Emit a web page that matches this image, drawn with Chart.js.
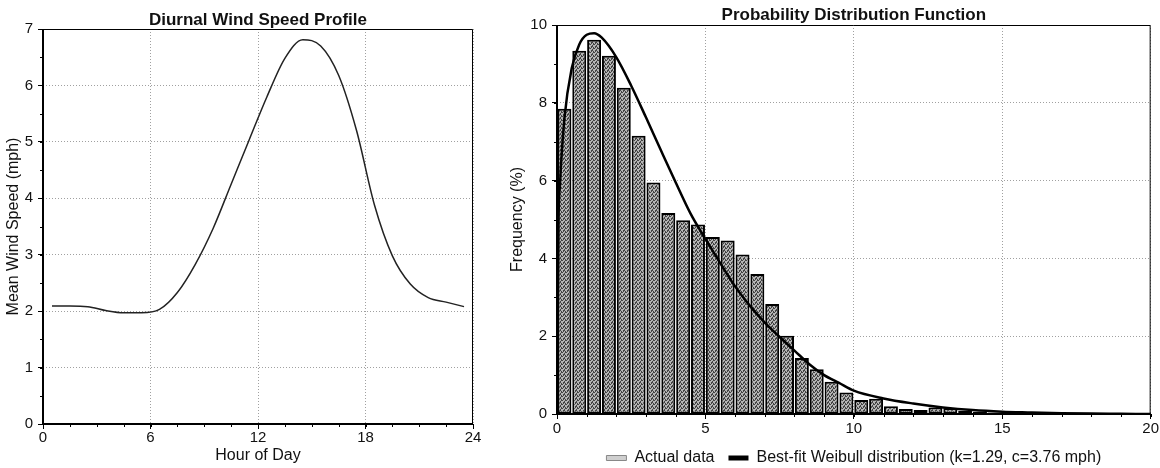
<!DOCTYPE html>
<html>
<head>
<meta charset="utf-8">
<title>Wind speed profile and distribution</title>
<script src="https://cdn.jsdelivr.net/npm/chart.js@4.4.1/dist/chart.umd.min.js"></script>
<style>
  html, body { margin: 0; padding: 0; background: #fff; overflow: hidden; }
  #wrap { position: relative; width: 1160px; height: 468px; overflow: hidden; }
  .box { position: absolute; }
  #left { left: 0; top: 0; }
  #right { left: 490px; top: 8px; }
</style>
</head>
<body>
<div id="wrap">
  <div class="box" id="left"><canvas id="diurnal" width="490" height="468"></canvas></div>
  <div class="box" id="right"><canvas id="pdf" width="670" height="468"></canvas></div>
</div>
<script>
// Diurnal profile (hourly means, plotted at the middle of each hour)
const hours = [0.5, 1.5, 2.5, 3.5, 4.5, 5.5, 6.5, 7.5, 8.5, 9.5, 10.5, 11.5,
               12.5, 13.5, 14.5, 15.5, 16.5, 17.5, 18.5, 19.5, 20.5, 21.5, 22.5, 23.5];
const meanSpeed = [2.09, 2.09, 2.08, 2.01, 1.97, 1.97, 2.03, 2.33, 2.83, 3.47, 4.25, 5.03,
                   5.80, 6.48, 6.81, 6.70, 6.18, 5.20, 3.88, 2.98, 2.48, 2.24, 2.16, 2.08];
const hourTicks = [0, 6, 12, 18, 24];
const speedTicks = [0, 1, 2, 3, 4, 5, 6, 7];

// Histogram of measured speeds, 0.5 mph bins
const binCenters = [0.25, 0.75, 1.25, 1.75, 2.25, 2.75, 3.25, 3.75, 4.25, 4.75, 5.25, 5.75,
                    6.25, 6.75, 7.25, 7.75, 8.25, 8.75, 9.25, 9.75, 10.25, 10.75, 11.25, 11.75,
                    12.25, 12.75, 13.25, 13.75, 14.25, 14.75, 15.25, 15.75];
const frequency = [7.85, 9.34, 9.62, 9.21, 8.39, 7.15, 5.95, 5.17, 4.98, 4.87, 4.55, 4.46,
                   4.10, 3.60, 2.83, 2.01, 1.44, 1.15, 0.83, 0.55, 0.36, 0.39, 0.20, 0.13,
                   0.10, 0.17, 0.15, 0.08, 0.06, 0.04, 0.03, 0.02];

// Weibull fit curve
const fitSpeed = [0, 0.05, 0.1, 0.25, 0.5, 0.75, 1, 1.25, 1.5, 2, 2.5, 3, 3.5, 4, 4.5, 5, 5.5,
                  6, 6.5, 7, 7.5, 8, 8.5, 9, 9.5, 10, 11, 12, 13, 14, 15, 16, 17, 18, 19, 20];
const fitFreq = [0, 4.9, 5.9, 7.6, 8.9, 9.5, 9.75, 9.79, 9.68, 9.17, 8.44, 7.62, 6.78, 5.95, 5.15,
                 4.5, 3.88, 3.28, 2.78, 2.35, 1.98, 1.63, 1.28, 1.0, 0.8, 0.6, 0.4, 0.27, 0.17,
                 0.1, 0.06, 0.04, 0.02, 0.01, 0.005, 0];
const mphTicks = [0, 5, 10, 15, 20];
const freqTicks = [0, 2, 4, 6, 8, 10];

Chart.defaults.font.family = "'Liberation Sans', Arial, sans-serif";
Chart.defaults.color = '#111';
Chart.defaults.animation = false;

// title centred over the plot area, not the whole canvas
const plotTitle = {
  id: 'plotTitle',
  afterDraw(chart, args, opts) {
    const { ctx, chartArea: a } = chart;
    ctx.save();
    ctx.font = 'bold 17px "Liberation Sans", Arial, sans-serif';
    ctx.fillStyle = '#111';
    ctx.textAlign = 'center';
    ctx.textBaseline = 'middle';
    ctx.fillText(opts.text, (a.left + a.right) / 2, opts.y);
    ctx.restore();
  }
};

// axis lines and box around the plot
const frame = {
  id: 'frame',
  afterDraw(chart) {
    const { ctx, chartArea: a } = chart;
    ctx.save();
    ctx.strokeStyle = '#000';
    ctx.lineWidth = 1;
    ctx.beginPath();
    ctx.moveTo(a.left, a.top + 0.5);
    ctx.lineTo(a.right - 0.5, a.top + 0.5);
    ctx.lineTo(a.right - 0.5, a.bottom);
    ctx.stroke();
    ctx.lineWidth = 2;
    ctx.beginPath();
    ctx.moveTo(a.left, a.top);
    ctx.lineTo(a.left, a.bottom);
    ctx.lineTo(a.right, a.bottom);
    ctx.stroke();
    ctx.restore();
  }
};

// small unlabeled ticks between the major ones
const minorTicks = {
  id: 'minorTicks',
  afterDraw(chart, args, opts) {
    const { ctx, chartArea: a, scales } = chart;
    ctx.save();
    ctx.strokeStyle = '#000';
    ctx.lineWidth = 1;
    ctx.beginPath();
    const xs = scales.x;
    for (let v = xs.min; v <= xs.max + 1e-9; v += opts.x) {
      const px = Math.round(xs.getPixelForValue(v)) + 0.5;
      ctx.moveTo(px, a.bottom);
      ctx.lineTo(px, a.bottom + 3);
    }
    const ys = scales.y;
    for (let v = ys.min; v <= ys.max + 1e-9; v += opts.y) {
      const py = Math.round(ys.getPixelForValue(v)) + 0.5;
      ctx.moveTo(a.left, py);
      ctx.lineTo(a.left - 3, py);
    }
    ctx.stroke();
    ctx.restore();
  }
};

function gridOpts() {
  return { color: '#a0a0a0', lineWidth: 1, tickColor: '#000', tickLength: 5, tickWidth: 1, tickBorderDash: [] };
}

function stipple() {
  const c = document.createElement('canvas');
  c.width = 4; c.height = 4;
  const g = c.getContext('2d');
  g.fillStyle = '#b4b4b4';
  g.fillRect(0, 0, 4, 4);
  g.fillStyle = '#444';
  [[0, 0], [2, 1], [1, 2], [3, 3], [3, 0], [1, 3], [2, 2]].forEach(([x, y]) => g.fillRect(x, y, 1, 1));
  return g.createPattern(c, 'repeat');
}

new Chart(document.getElementById('diurnal'), {
  type: 'line',
  data: {
    datasets: [{
      data: hours.map((h, i) => ({ x: h, y: meanSpeed[i] })),
      borderColor: '#222',
      borderWidth: 1.5,
      pointRadius: 0,
      cubicInterpolationMode: 'monotone'
    }]
  },
  options: {
    responsive: false,
    devicePixelRatio: 1,
    layout: { padding: { top: 29, right: 17, left: 0, bottom: 0 } },
    plugins: {
      legend: { display: false },
      tooltip: { enabled: false },
      plotTitle: { text: 'Diurnal Wind Speed Profile', y: 20 },
      minorTicks: { x: 1.5, y: 0.5 }
    },
    scales: {
      x: {
        type: 'linear', min: 0, max: 24,
        afterBuildTicks: s => { s.ticks = hourTicks.map(v => ({ value: v })); },
        afterFit: s => { s.height = 44; },
        grid: gridOpts(),
        border: { display: false, dash: [1, 2] },
        ticks: { font: { size: 15 }, padding: 0, maxRotation: 0 },
        title: { display: true, text: 'Hour of Day', font: { size: 16 }, padding: { top: 0, bottom: 3 } }
      },
      y: {
        min: 0, max: 7,
        afterBuildTicks: s => { s.ticks = speedTicks.map(v => ({ value: v })); },
        afterFit: s => { s.width = 43; },
        grid: gridOpts(),
        border: { display: false, dash: [1, 2] },
        ticks: { font: { size: 15 }, padding: 5 },
        title: { display: true, text: 'Mean Wind Speed (mph)', font: { size: 16 }, padding: { top: 4, bottom: 0 } }
      }
    }
  },
  plugins: [plotTitle, frame, minorTicks]
});

new Chart(document.getElementById('pdf'), {
  type: 'bar',
  data: {
    datasets: [{
      type: 'bar',
      label: 'Actual data',
      data: binCenters.map((x, i) => ({ x: x, y: frequency[i] })),
      backgroundColor: stipple(),
      borderColor: '#000',
      borderWidth: 2,
      borderSkipped: false,
      barPercentage: 1,
      categoryPercentage: 0.94,
      order: 2
    }, {
      type: 'line',
      label: 'Best-fit Weibull distribution (k=1.29, c=3.76 mph)',
      data: fitSpeed.map((x, i) => ({ x: x, y: fitFreq[i] })),
      borderColor: '#000',
      borderWidth: 2.5,
      pointRadius: 0,
      cubicInterpolationMode: 'monotone',
      order: 1
    }]
  },
  options: {
    responsive: false,
    devicePixelRatio: 1,
    layout: { padding: { top: 17, right: 8, left: 0, bottom: 0 } },
    plugins: {
      tooltip: { enabled: false },
      plotTitle: { text: 'Probability Distribution Function', y: 7 },
      minorTicks: { x: 1, y: 1 },
      legend: {
        position: 'bottom',
        fullSize: false,
        labels: {
          font: { size: 16 },
          color: '#111',
          boxWidth: 20,
          boxHeight: 5,
          padding: 14,
          generateLabels: chart => {
            const items = Chart.defaults.plugins.legend.labels.generateLabels(chart);
            items.sort((a, b) => a.datasetIndex - b.datasetIndex);
            items[0].fillStyle = '#cfcfcf';
            items[0].strokeStyle = '#888';
            items[0].lineWidth = 1;
            items[1].fillStyle = '#000';
            items[1].strokeStyle = '#000';
            items[1].lineWidth = 0;
            return items;
          }
        }
      }
    },
    scales: {
      x: {
        type: 'linear', min: 0, max: 20, offset: false,
        afterBuildTicks: s => { s.ticks = mphTicks.map(v => ({ value: v })); },
        afterFit: s => { s.height = 22; },
        grid: Object.assign(gridOpts(), { offset: false }),
        border: { display: false, dash: [1, 2] },
        ticks: { font: { size: 15 }, padding: 1, maxRotation: 0 }
      },
      y: {
        min: 0, max: 10,
        afterBuildTicks: s => { s.ticks = freqTicks.map(v => ({ value: v })); },
        afterFit: s => { s.width = 67; },
        grid: gridOpts(),
        border: { display: false, dash: [1, 2] },
        ticks: { font: { size: 15 }, padding: 5 },
        title: { display: true, text: 'Frequency (%)', font: { size: 16 }, padding: { top: 18, bottom: 0 } }
      }
    }
  },
  plugins: [plotTitle, frame, minorTicks]
});
</script>
</body>
</html>
